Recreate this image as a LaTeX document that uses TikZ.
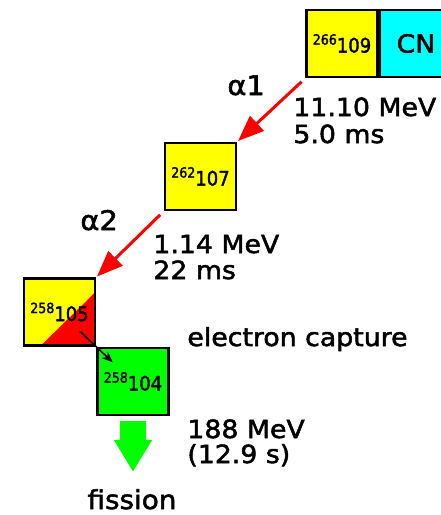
\documentclass[tikz,border=0pt]{standalone}
\usepackage{fontspec}
\setmainfont{DejaVu Sans}
\newfontfamily\lblfont[FakeStretch=1.07, FakeBold=2]{DejaVu Sans}
\newfontfamily\nucfont[FakeStretch=0.9, FakeBold=2]{DejaVu Sans}
\usetikzlibrary{positioning,arrows.meta,calc}
\definecolor{nucyellow}{rgb}{1,1,0}
\definecolor{nucgreen}{rgb}{0,1,0}
\definecolor{nuccyan}{rgb}{0,1,1}
\definecolor{decayred}{rgb}{1,0,0}
\newcommand{\nuc}[2]{\nucfont\raisebox{8pt}{\fontsize{14}{14}\selectfont #1}\fontsize{20}{20}\selectfont #2}

\begin{document}
\begin{tikzpicture}[x=1pt,y=-1pt,>=stealth, line width=0.8pt]
    \tikzstyle{nucbox} = [draw, rectangle, line width=2.5pt, minimum width=71pt, minimum height=67pt, inner sep=0pt]
    \tikzstyle{lbl} = [inner sep=0pt, anchor=base west, font=\lblfont\fontsize{25}{30}\selectfont]
    \tikzstyle{alphalbl} = [inner sep=0pt, anchor=base west, font=\lblfont\fontsize{27}{32}\selectfont]
    \tikzstyle{alphaarrow} = [draw=decayred, line width=3pt, -{Triangle[length=26pt,width=20pt]}]

    \useasboundingbox (0,0) rectangle (441,515);

    % Kerne
    \node[nucbox, fill=nucyellow] (n266) at (342,43.5) {\nuc{266}{109}};
    \node[nucbox, fill=nuccyan, minimum width=72pt, right=0pt of n266, font=\lblfont\fontsize{25}{30}\selectfont] (cn) {CN};
    \node[nucbox, fill=nucyellow] (n262) at (200.5,176.5) {\nuc{262}{107}};
    \node[nucbox, fill=nucyellow, path picture={
        \fill[decayred] ($(path picture bounding box.south west)+(17,0)$) -- (path picture bounding box.south east)
            -- ($(path picture bounding box.north east)+(0,14)$) -- cycle;}] (n105) at (59.5,312) {\nuc{258}{105}};
    \node[nucbox, fill=nucgreen, below right=0pt of n105] (n104) {\nuc{258}{104}};

    % Alpha-Zerfaelle
    \draw[alphaarrow, shorten <=5pt, shorten >=1pt] (n266.south west) -- (n262.north east);
    \draw[alphaarrow, shorten <=5pt, shorten >=1pt] (n262.south west) -- (n105.north east);
    \node[alphalbl] (a1) at (227,95) {α1};
    \node[lbl] (e1) at (293,116) {11.10 MeV};
    \node[lbl] (t1) at (293,143) {5.0 ms};
    \node[alphalbl] (a2) at (80,230) {α2};
    \node[lbl] (e2) at (153,253) {1.14 MeV};
    \node[lbl] (t2) at (153,279) {22 ms};

    % Elektroneneinfang
    \draw[-{Stealth[length=11pt,width=9pt]}, line width=1.6pt, shorten <=28pt, shorten >=28pt] (n105.center) -- (n104.center);
    \node[lbl] (ec) at (187,346) {electron capture};

    % Spaltung
    \node[lbl] (e3) at (187,438) {188 MeV};
    \node[lbl] (t3) at (187,463) {(12.9 s)};
    \node[lbl, anchor=base, font=\lblfont\fontsize{26}{30}\selectfont] (fis) at (132,509) {fission};
    \draw[nucgreen, line width=26pt, -{Triangle[length=32pt,width=36pt]}, shorten <=5pt, shorten >=17pt] (n104.south) -- (n104.south |- fis.north);
\end{tikzpicture}
\end{document}
